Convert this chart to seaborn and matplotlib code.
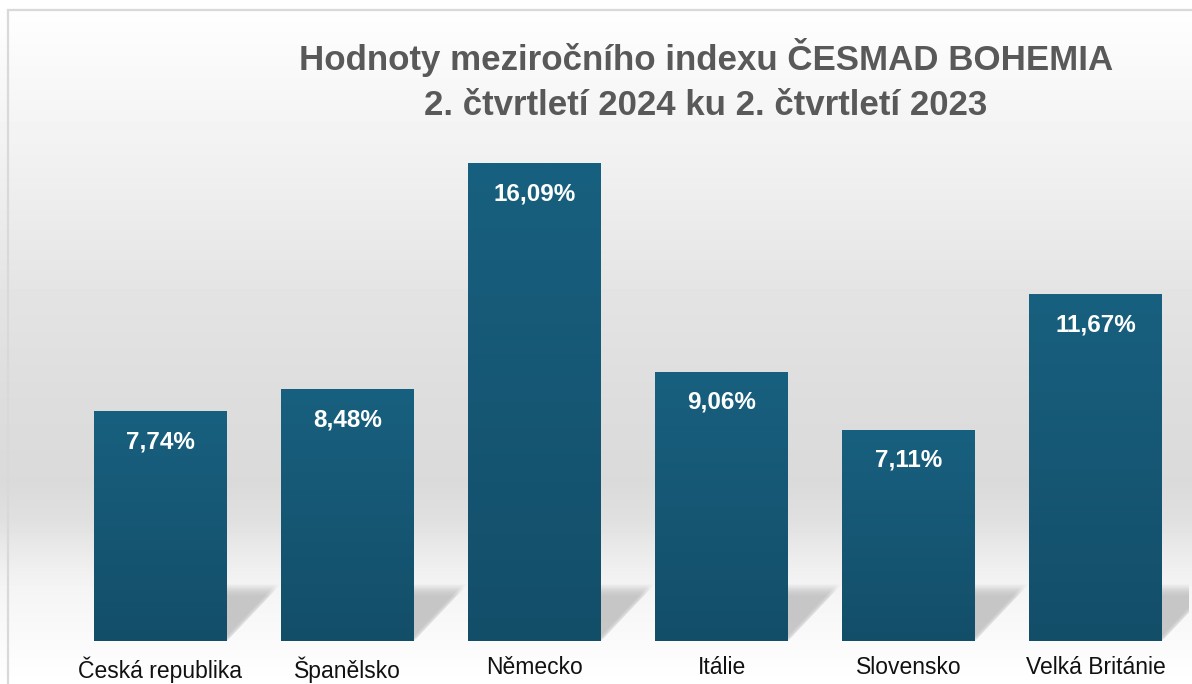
import numpy as np
import pandas as pd
import matplotlib
matplotlib.use('Agg')
import matplotlib.pyplot as plt
import seaborn as sns
from matplotlib.colors import LinearSegmentedColormap
from matplotlib.patches import Polygon, Rectangle

# data
zeme = ['Česká republika', 'Španělsko', 'Německo', 'Itálie', 'Slovensko', 'Velká Británie']
hodnoty = [7.74, 8.48, 16.09, 9.06, 7.11, 11.67]
titulek_1 = 'Hodnoty meziročního indexu ČESMAD BOHEMIA'
titulek_2 = '2. čtvrtletí 2024 ku 2. čtvrtletí 2023'

df = pd.DataFrame({'zeme': zeme, 'hodnota': hodnoty})

sns.set_theme(style='white')
plt.rcParams['font.family'] = ['Liberation Sans', 'DejaVu Sans']

W, H = 1192, 684
fig = plt.figure(figsize=(W / 100, H / 100), dpi=100)

# background gradient (wall + floor)
bg = fig.add_axes([0, 0, 1, 1], zorder=-10)
stops_y = [0, 10, 100, 200, 300, 400, 480, 520, 560, 585, 640, 684]
stops_v = [255, 254, 246, 237, 227, 221, 218, 224, 237, 244, 250, 255]
yy = np.arange(H)
col = np.interp(yy, stops_y, stops_v) / 255.0
img = np.repeat(col[:, None], 4, axis=1)
bg.imshow(img, cmap='gray', vmin=0, vmax=1, aspect='auto', extent=[0, 1, 0, 1])
bg.set_axis_off()

# frame around the chart
fig.patches.append(Rectangle((8 / W, -0.1), 1.2, (H - 10) / H + 0.1, transform=fig.transFigure,
                             fill=False, edgecolor='#d9d9d9', lw=1.6, zorder=5))

ax = fig.add_axes([67 / W, 43 / H, 1122 / W, 533.7 / H])
ax.patch.set_alpha(0)
sns.barplot(data=df, x='zeme', y='hodnota', color='#175e7e', width=0.71, ax=ax, saturation=1)

bar_cmap = LinearSegmentedColormap.from_list('bar', ['#134e69', '#18607f'])

# shadow image: grey with alpha fading out at the top
n, m = 100, 60
alpha = np.ones(n)
alpha[:6] = np.linspace(0.6, 1, 6)
alpha[-22:] = np.linspace(1, 0, 22)
shadow_img = np.zeros((n, m, 4))
shadow_img[..., :3] = 0.76
shadow_img[..., 3] = alpha[:, None]

dx, sh_h = 0.285, 1.9
for p in ax.patches:
    x0, w, h = p.get_x(), p.get_width(), p.get_height()
    p.set_facecolor('none')
    p.set_edgecolor('none')
    # bar gradient
    grad = np.linspace(0, 1, 256)[:, None]
    ax.imshow(grad, cmap=bar_cmap, aspect='auto', origin='lower',
              extent=[x0, x0 + w, 0, h], zorder=3)
    # cast shadow on the floor behind the bar (soft diagonal edge via layered polygons)
    for shift, a in [(0.0, 0.5), (-0.012, 0.5), (-0.024, 0.55)]:
        poly = Polygon([(x0, 0), (x0 + w + shift, 0), (x0 + w + dx + shift, sh_h), (x0 + dx, sh_h)],
                       closed=True, transform=ax.transData, facecolor='none', edgecolor='none')
        ax.add_patch(poly)
        sh = ax.imshow(shadow_img, aspect='auto', origin='lower', alpha=a,
                       extent=[x0, x0 + w + dx, 0, sh_h], zorder=1)
        sh.set_clip_path(poly)

ax.set_ylim(0, 18)
ax.set_xlim(-0.5, len(zeme) - 0.5)

# value labels inside the bars
for i, v in enumerate(hodnoty):
    ax.annotate(f'{v:.2f}%'.replace('.', ','), (i, v), xytext=(0, -30), textcoords='offset pixels',
                ha='center', va='center', color='white', fontsize=17.5, fontweight='bold', zorder=4)

sns.despine(ax=ax, left=True, bottom=True)
ax.set_yticks([])
ax.set_xlabel('')
ax.set_ylabel('')
ax.tick_params(axis='x', length=0, pad=11, labelsize=16.5, labelcolor='#111111')

fig.text(706 / W, 1 - 70 / H, titulek_1, ha='center', va='baseline', fontsize=25.1,
         fontweight='bold', color='#595959')
fig.text(706 / W, 1 - 115 / H, titulek_2, ha='center', va='baseline', fontsize=25.1,
         fontweight='bold', color='#595959')

plt.savefig('out.png', dpi=100)
